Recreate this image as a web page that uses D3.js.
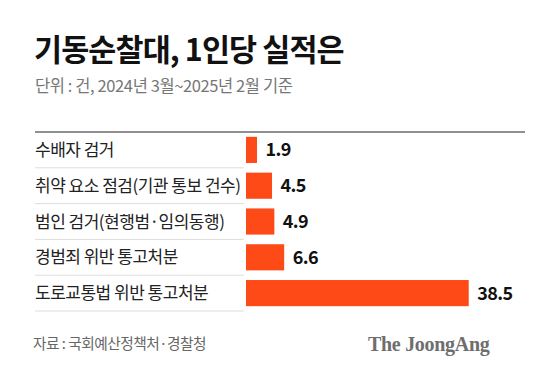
<!DOCTYPE html>
<html>
<head>
<meta charset="utf-8">
<script src="https://cdn.jsdelivr.net/npm/d3@7"></script>
<style>
	body { margin: 0; background: #fff; }
	text { font-family: 'Noto Sans CJK KR', 'Noto Sans', sans-serif; }
	text.logo { font-family: 'Liberation Serif', 'DejaVu Serif', serif; }
</style>
</head>
<body>
<svg id="chart" width="559" height="375"></svg>
<script>
// Chart data
const categories = [
	'수배자 검거',
	'취약 요소 점검(기관 통보 건수)',
	'범인 검거(현행범·임의동행)',
	'경범죄 위반 통고처분',
	'도로교통법 위반 통고처분'
];
const values = [1.9, 4.5, 4.9, 6.6, 38.5];
const valueLabels = ['1.9', '4.5', '4.9', '6.6', '38.5'];

const svg = d3.select('#chart');

// Layout controls
const marginLeft = 35;
const ruleRight = 525;
const labelEnd = 244;
const barStart = 246;
const chartTop = 132;
const rowH = 35.8;

const yScale = d3.scaleBand()
	.domain(categories)
	.range([chartTop, chartTop + rowH * categories.length])
	.paddingInner(0.27)
	.paddingOuter(0.135);

const xScale = d3.scaleLinear()
	.domain([0, 40])
	.range([barStart, barStart + 231.4]);

// Title + subtitle
svg.append('text')
	.attr('x', marginLeft - 1)
	.attr('y', 61)
	.attr('font-size', 30.5)
	.attr('font-weight', 700)
	.attr('letter-spacing', -0.9)
	.attr('fill', '#111')
	.text('기동순찰대, 1인당 실적은');

svg.append('text')
	.attr('x', marginLeft)
	.attr('y', 92)
	.attr('font-size', 16.5)
	.attr('letter-spacing', -0.4)
	.attr('fill', '#777')
	.text('단위 : 건, 2024년 3월~2025년 2월 기준');

// Top rule
svg.append('line')
	.attr('x1', marginLeft).attr('x2', ruleRight)
	.attr('y1', chartTop).attr('y2', chartTop)
	.attr('stroke', '#222')
	.attr('stroke-width', 1.2);

// Row separators in the label column
svg.selectAll('.sep')
	.data(categories)
	.enter()
	.append('line')
		.attr('class', 'sep')
		.attr('x1', marginLeft).attr('x2', labelEnd)
		.attr('y1', (d, i) => chartTop + rowH * (i + 1))
		.attr('y2', (d, i) => chartTop + rowH * (i + 1))
		.attr('stroke', '#ddd')
		.attr('stroke-width', 1);

// Category labels
svg.selectAll('.cat')
	.data(categories)
	.enter()
	.append('text')
		.attr('class', 'cat')
		.attr('x', marginLeft)
		.attr('y', d => yScale(d) + yScale.bandwidth() / 2)
		.attr('dy', '0.36em')
		.attr('font-size', 17)
		.attr('letter-spacing', -0.5)
		.attr('fill', '#222')
		.text(d => d);

// Bars
svg.selectAll('.bar')
	.data(values)
	.enter()
	.append('rect')
		.attr('class', 'bar')
		.attr('x', xScale(0))
		.attr('y', (d, i) => yScale(categories[i]))
		.attr('width', d => xScale(d) - xScale(0))
		.attr('height', yScale.bandwidth())
		.attr('fill', '#fd4a17');

// Value labels
svg.selectAll('.val')
	.data(values)
	.enter()
	.append('text')
		.attr('class', 'val')
		.attr('x', d => xScale(d) + 8.5)
		.attr('y', (d, i) => yScale(categories[i]) + yScale.bandwidth() / 2)
		.attr('dy', '0.36em')
		.attr('font-size', 18)
		.attr('font-weight', 700)
		.attr('letter-spacing', -0.6)
		.attr('fill', '#111')
		.text((d, i) => valueLabels[i]);

// Footer
svg.append('text')
	.attr('x', 33)
	.attr('y', 349)
	.attr('font-size', 14.7)
	.attr('letter-spacing', -0.5)
	.attr('fill', '#666')
	.text('자료 : 국회예산정책처·경찰청');

svg.append('text')
	.attr('class', 'logo')
	.attr('x', 368)
	.attr('y', 351)
	.attr('font-size', 20)
	.attr('font-weight', 700)
	.attr('letter-spacing', -0.3)
	.attr('fill', '#6e6e6e')
	.text('The JoongAng');
</script>
</body>
</html>
